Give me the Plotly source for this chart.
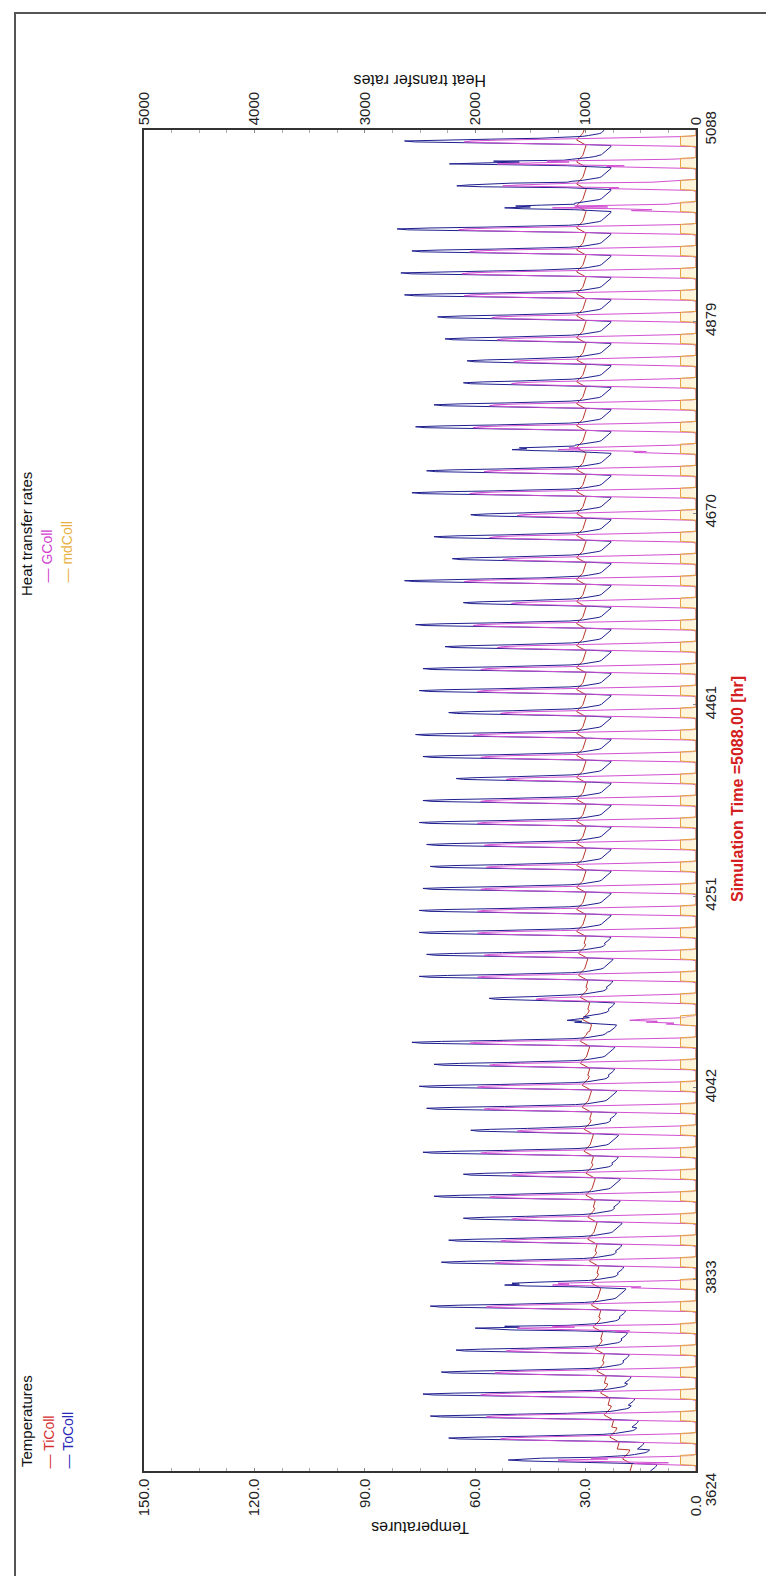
import numpy as np
import plotly.graph_objects as go

# ---------------- data ----------------
t_start, t_end = 3624, 5088
time_ticks = [3624, 3833.14, 4042.29, 4251.43, 4460.57, 4669.71, 4878.86, 5088]
time_labels = ["3624" + "\u00a0" * 10, "3833", "4042", "4251", "4461", "4670", "4879", "5088"]
temp_ticks = [0, 30, 60, 90, 120, 150]
temp_labels = ["0.0" + "\u00a0" * 4, "30.0", "60.0", "90.0", "120.0", "150.0"]
heat_ticks = [0, 1000, 2000, 3000, 4000, 5000]
heat_labels = ["0", "1000", "2000", "3000", "4000", "5000"]

# daily maximum outlet temperature ToColl [C], one per day (61 days)
to_peak = [51, 66, 71, 73, 68, 64, 60, 71, 52, 68, 66, 62,
           70, 62, 73, 60, 72, 74, 70, 76, 35, 55, 74, 72,
           74, 74, 73, 71, 72, 74, 73, 64, 73,
           75, 66, 74, 73, 67, 75, 62, 78, 65, 70, 60, 76, 72, 50, 75, 70, 62,
           61, 67, 69, 78, 79, 76, 80, 52, 65, 67, 78]
# daily mean inlet temperature TiColl [C]
ti_mean = [18.5, 22, 23.5, 24.5, 25.5, 26, 26.5, 27, 27, 27.5, 28, 28,
           28.5, 28.5, 29, 29, 29.5, 29.5, 30, 30, 29.5, 30, 30.5, 30.5,
           31, 31, 31, 31, 31, 31, 31, 31, 31,
           31, 31, 31, 31, 31, 31, 31, 31, 31, 31, 31, 31, 31, 31, 31, 31, 31,
           31, 31, 31, 31, 31, 31, 31, 31, 31, 31, 31]
# daily maximum of GColl [heat-rate units]
g_peak = [1250, 1770, 1900, 1950, 1820, 1720, 1620, 1900, 1300, 1820, 1770, 1670,
          1870, 1670, 1950, 1620, 1920, 1980, 1870, 2050, 600, 1450, 1980, 1920,
          1980, 1980, 1950, 1900, 1920, 1980, 1950, 1720, 1950,
          2020, 1770, 1980, 1950, 1800, 2020, 1670, 2100, 1750, 1870, 1620, 2050, 1920, 1250, 2020, 1870, 1670,
          1650, 1800, 1850, 2100, 2120, 2050, 2150, 1300, 1750, 1800, 2100]

# cloudy days: hourly ToColl / GColl values for hours 9..15 read from the blobs
to_cloudy = {0: [26, 44, 47, 51, 45, 42, 27],
             6: [33, 50, 56, 60, 48, 52, 35],
             8: [32, 46, 52, 48, 50, 44, 33],
             20: [29, 33, 31, 35, 33, 30, 29],
             46: [33, 44, 50, 46, 48, 40, 33],
             57: [33, 47, 52, 45, 49, 42, 33],
             58: [35, 58, 65, 62, 57, 50, 35],
             59: [35, 50, 67, 58, 48, 55, 36]}
g_cloudy = {0: [250, 1000, 1150, 1250, 800, 950, 300],
            6: [600, 1250, 1450, 1620, 1100, 1300, 500],
            8: [500, 1050, 1300, 1150, 1250, 900, 350],
            20: [200, 450, 350, 600, 500, 300, 100],
            46: [450, 900, 1250, 1050, 1150, 800, 300],
            57: [400, 700, 1300, 800, 1100, 650, 250],
            58: [700, 1500, 1750, 1600, 1400, 1100, 400],
            59: [650, 1200, 1800, 1500, 1150, 1350, 450]}

# typical hourly shapes (hour 0..23) read from the daily pattern
to_rise = [0, 0, 0, 0, 0, 0, 0, 0, 0.04, 0.3, 0.7, 0.95, 1.0, 0.82, 0.5, 0.22, 0.06, 0, 0, 0, 0, 0, 0, 0]
to_night = [-5.5, -5.8, -6, -6.2, -6.4, -6.6, -6.8, -6.8, -3, 0, 0, 0, 0, 0, 0, 0, 0, -0.5, -2, -3.5, -4.5, -5, -5.2, -5.4]
ti_shape = [-0.6, -0.7, -0.8, -0.9, -1.0, -1.0, -1.1, -1.1, -0.9, -0.4, 0.2, 0.8, 1.2, 1.4, 1.3, 1.0, 0.7, 0.4, 0.2, 0.0, -0.2, -0.3, -0.4, -0.5]
g_shape = [0, 0, 0, 0, 0, 0, 0.02, 0.2, 0.45, 0.7, 0.9, 1.0, 0.97, 0.85, 0.62, 0.36, 0.14, 0.02, 0, 0, 0, 0, 0, 0]
md_shape = [0, 0, 0, 0, 0, 0, 0, 140, 140, 140, 140, 140, 140, 140, 140, 140, 140, 140, 0, 0, 0, 0, 0, 0]

# ---------------- build hourly series ----------------
time = []
ti, to, gc, md = [], [], [], []
n_days = len(to_peak)
for i in range(t_end - t_start + 1):
    d = min(i // 24, n_days - 1)
    h = i % 24 if i // 24 < n_days else 0
    base = ti_mean[d] + ti_shape[h]
    t_out = base + to_rise[h] * (to_peak[d] - ti_mean[d]) + to_night[h]
    g = g_shape[h] * g_peak[d]
    if d in to_cloudy and 9 <= h <= 15:
        t_out = to_cloudy[d][h - 9]
        g = g_cloudy[d][h - 9]
    time.append(t_start + i)
    ti.append(base)
    to.append(t_out)
    gc.append(g)
    md.append(md_shape[h])

# ---------------- figure ----------------
fig = go.Figure()
fig.add_trace(go.Scatter(x=gc, y=time, xaxis="x2", yaxis="y", mode="lines",
                         line=dict(color="#d24fd2", width=1), name="GColl"))
fig.add_trace(go.Scatter(x=md, y=time, xaxis="x2", yaxis="y", mode="lines",
                         line=dict(color="#e6a23c", width=1), name="mdColl",
                         fill="tozerox", fillcolor="rgba(255,236,190,0.55)"))
fig.add_trace(go.Scatter(x=ti, y=time, mode="lines",
                         line=dict(color="#b8352a", width=1), name="TiColl"))
fig.add_trace(go.Scatter(x=to, y=time, mode="lines",
                         line=dict(color="#1f1f8f", width=1), name="ToColl"))

W, H = 774, 1576
L, R, T, B = 136, 688, 122, 1463


def px(x):
    return (x - L) / (R - L)


def py(y):
    return (B - y) / (B - T)


tickfont = dict(family="Liberation Sans, Arial, sans-serif", size=15, color="#222")
axis_common = dict(showline=True, linecolor="#333", linewidth=1.5, showgrid=False,
                   zeroline=False, ticks="inside", ticklen=3, tickcolor="#888",
                   tickfont=tickfont)

fig.update_layout(
    width=W, height=H, showlegend=False,
    paper_bgcolor="white", plot_bgcolor="white",
    margin=dict(l=L, r=W - R, t=T, b=H - B),
    xaxis=dict(range=[150, 0], tickvals=temp_ticks, ticktext=temp_labels,
               tickangle=-90, side="bottom",
               minor=dict(dtick=7.5, ticks="inside", ticklen=3, tickcolor="#aaa"),
               **axis_common),
    xaxis2=dict(range=[5000, 0], tickvals=heat_ticks, ticktext=heat_labels,
                tickangle=-90, side="top", overlaying="x",
                minor=dict(dtick=250, ticks="inside", ticklen=3, tickcolor="#aaa"),
                **axis_common),
    yaxis=dict(range=[t_start, t_end], tickvals=time_ticks, ticktext=time_labels,
               tickangle=-90, side="right", mirror=True,
               **axis_common),
)

ann_font = "Liberation Sans, Arial, sans-serif"
annotations = [
    dict(text="Heat transfer rates", x=0.5, y=py(62), textangle=180,
         font=dict(family=ann_font, size=16, color="#111")),
    dict(text="Temperatures", x=0.5, y=py(1530), textangle=180,
         font=dict(family=ann_font, size=16, color="#111")),
    dict(text="<b>Simulation Time =5088.00 [hr]</b>", x=px(729), y=py(781), textangle=-90,
         font=dict(family=ann_font, size=16, color="#d42020")),
    dict(text="Temperatures", x=px(18), y=py(1461), textangle=-90, yanchor="bottom",
         font=dict(family=ann_font, size=15, color="#111")),
    dict(text="— TiColl", x=px(40), y=py(1463), textangle=-90, yanchor="bottom",
         font=dict(family=ann_font, size=14, color="#d43030")),
    dict(text="— ToColl", x=px(59), y=py(1463), textangle=-90, yanchor="bottom",
         font=dict(family=ann_font, size=14, color="#2828b8")),
    dict(text="Heat transfer rates", x=px(18), y=py(590), textangle=-90, yanchor="bottom",
         font=dict(family=ann_font, size=15, color="#111")),
    dict(text="— GColl", x=px(38), y=py(577), textangle=-90, yanchor="bottom",
         font=dict(family=ann_font, size=14, color="#d040d0")),
    dict(text="— mdColl", x=px(58), y=py(577), textangle=-90, yanchor="bottom",
         font=dict(family=ann_font, size=14, color="#e8b040")),
]
for a in annotations:
    a.update(xref="paper", yref="paper", showarrow=False, xanchor="center")
fig.update_layout(annotations=annotations)

fig.add_shape(type="rect", xref="paper", yref="paper",
              x0=px(7), x1=px(767), y0=py(1571), y1=py(5),
              line=dict(color="#555", width=2))

fig.write_html("out.html")
